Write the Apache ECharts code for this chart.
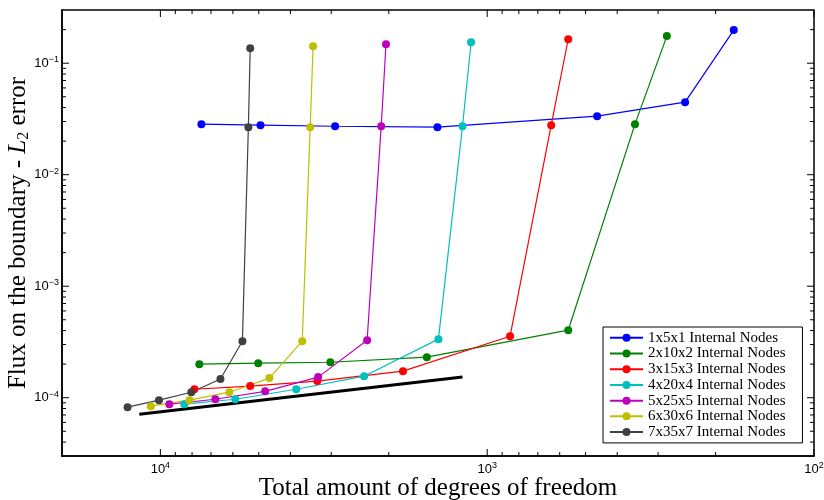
<!DOCTYPE html>
<html>
<head>
<meta charset="utf-8">
<script src="https://cdn.jsdelivr.net/npm/echarts@6/dist/echarts.min.js"></script>
<style>
  html, body { margin: 0; padding: 0; background: #fff; }
  #chart { width: 824px; height: 500px; }
</style>
</head>
<body>
<div id="chart"></div>
<script>
// Series labels and colours
const seriesNames = [
  '1x5x1 Internal Nodes', '2x10x2 Internal Nodes', '3x15x3 Internal Nodes',
  '4x20x4 Internal Nodes', '5x25x5 Internal Nodes', '6x30x6 Internal Nodes',
  '7x35x7 Internal Nodes'
];
const seriesColors = ['#0000ff', '#008000', '#ff0000', '#00bfbf', '#bf00bf', '#bfbf00', '#404040'];

// Degrees of freedom per configuration
const dof1 = [7490, 4940, 2920, 1420, 461, 248, 176];
const dof2 = [7600, 5020, 3020, 1530, 565, 353, 282];
const dof3 = [7870, 5310, 3310, 1810, 851, 637, 565];
const dof4 = [8450, 5900, 3840, 2380, 1410, 1190, 1120];
const dof5 = [9390, 6790, 4780, 3290, 2330, 2110, 2040];
const dof6 = [10700, 8150, 6150, 4640, 3680, 3480, 3410];
const dof7 = [12600, 10100, 8040, 6550, 5610, 5380, 5310];

// Boundary flux L2 error per configuration
const err1 = [0.0284, 0.0278, 0.0272, 0.0267, 0.0335, 0.0447, 0.198];
const err2 = [2.00e-4, 2.04e-4, 2.08e-4, 2.31e-4, 4.03e-4, 0.0284, 0.175];
const err3 = [1.19e-4, 1.27e-4, 1.41e-4, 1.73e-4, 3.56e-4, 0.0278, 0.164];
const err4 = [8.74e-5, 9.69e-5, 1.19e-4, 1.56e-4, 3.35e-4, 0.0272, 0.154];
const err5 = [8.74e-5, 9.69e-5, 1.14e-4, 1.53e-4, 3.28e-4, 0.0272, 0.148];
const err6 = [8.39e-5, 9.50e-5, 1.12e-4, 1.50e-4, 3.21e-4, 0.0267, 0.142];
const err7 = [8.22e-5, 9.50e-5, 1.12e-4, 1.47e-4, 3.21e-4, 0.0267, 0.136];

// Reference slope line
const refDof = [11600, 1190];
const refErr = [7.11e-5, 1.53e-4];

// Axis ranges and tick positions
const xRange = [100, 20000];
const yRange = [3e-5, 0.3];
const xMajorTicks = [100, 1000, 10000];
const yMajorTicks = [1e-4, 1e-3, 1e-2, 1e-1];
const minorMantissas = [2, 3, 4, 5, 6, 7, 8, 9];
const xDecades = [100, 1000, 10000];
const yDecades = [1e-5, 1e-4, 1e-3, 1e-2, 1e-1];

const dofs = [dof1, dof2, dof3, dof4, dof5, dof6, dof7];
const errs = [err1, err2, err3, err4, err5, err6, err7];

function minorTicks(decades, range) {
  const out = [];
  decades.forEach(d => minorMantissas.forEach(m => {
    const v = m * d;
    if (v > range[0] * 1.0001 && v < range[1] * 0.9999) out.push(v);
  }));
  return out;
}

const MAJOR_LEN = 7, MINOR_LEN = 4;
const xTickData = xMajorTicks.map(v => [v, 1e-3, MAJOR_LEN])
  .concat(minorTicks(xDecades, xRange).map(v => [v, 1e-3, MINOR_LEN]));
const yTickData = yMajorTicks.map(v => [1000, v, MAJOR_LEN])
  .concat(minorTicks(yDecades, yRange).map(v => [1000, v, MINOR_LEN]));

function isPow10(v) {
  const l = Math.log10(v);
  return Math.abs(l - Math.round(l)) < 1e-6;
}
function powerLabel(v) {
  if (!isPow10(v)) return '';
  const e = Math.round(Math.log10(v));
  return '{b|10}{e|' + (e < 0 ? '\u2212' + (-e) : e) + '}';
}
const tickRich = {
  b: { fontFamily: 'Liberation Sans', fontSize: 13, color: '#000', lineHeight: 16 },
  e: { fontFamily: 'Liberation Sans', fontSize: 9, color: '#000', lineHeight: 8, verticalAlign: 'top' }
};

function tickLine(x1, y1, x2, y2) {
  return { type: 'line', shape: { x1, y1, x2, y2 }, style: { stroke: '#000', lineWidth: 1 } };
}

const series = seriesNames.map((name, i) => ({
  name,
  type: 'line',
  data: dofs[i].map((x, j) => [x, errs[i][j]]),
  symbol: 'circle',
  symbolSize: 8,
  color: seriesColors[i],
  lineStyle: { width: 1.2, color: seriesColors[i] },
  itemStyle: { color: seriesColors[i] },
  emphasis: { disabled: true },
  silent: true
}));

series.push({
  name: 'reference',
  type: 'line',
  data: refDof.map((x, j) => [x, refErr[j]]),
  showSymbol: false,
  symbol: 'none',
  lineStyle: { width: 3, color: '#000' },
  emphasis: { disabled: true },
  silent: true
});

// Inward ticks on all four sides of the box
series.push({
  type: 'custom',
  silent: true,
  data: xTickData,
  renderItem(params, api) {
    const cs = params.coordSys;
    const px = api.coord([api.value(0), api.value(1)])[0];
    const len = api.value(2);
    const bottom = cs.y + cs.height, top = cs.y;
    return { type: 'group', children: [
      tickLine(px, bottom, px, bottom - len),
      tickLine(px, top, px, top + len)
    ] };
  },
  z: 5
});
series.push({
  type: 'custom',
  silent: true,
  data: yTickData,
  renderItem(params, api) {
    const cs = params.coordSys;
    const py = api.coord([api.value(0), api.value(1)])[1];
    const len = api.value(2);
    const left = cs.x, right = cs.x + cs.width;
    return { type: 'group', children: [
      tickLine(left, py, left + len, py),
      tickLine(right, py, right - len, py)
    ] };
  },
  z: 5
});

const chart = echarts.init(document.getElementById('chart'), null, { renderer: 'canvas' });
chart.setOption({
  animation: false,
  backgroundColor: '#fff',
  grid: {
    left: 62, right: 10, top: 10, bottom: 44,
    outerBoundsMode: 'none',
    show: true, borderColor: '#000', borderWidth: 1.5, backgroundColor: 'transparent'
  },
  legend: {
    orient: 'vertical',
    left: 603, top: 327,
    data: seriesNames,
    backgroundColor: '#fff',
    borderColor: '#000', borderWidth: 1, borderRadius: 0,
    padding: [3, 17, 3, 6],
    itemGap: 0, itemWidth: 33, itemHeight: 10,
    selectedMode: false,
    textStyle: { fontFamily: 'Liberation Serif', fontSize: 15, color: '#000', lineHeight: 15.7 }
  },
  xAxis: {
    type: 'log', logBase: 10,
    min: xRange[0], max: xRange[1], inverse: true,
    axisLine: { show: true, onZero: false, lineStyle: { color: '#000', width: 1.5 } },
    axisTick: { show: false },
    splitLine: { show: false },
    axisLabel: { formatter: powerLabel, margin: 5, rich: tickRich, hideOverlap: false },
    name: 'Total amount of degrees of freedom',
    nameLocation: 'middle', nameGap: 20, nameMoveOverlap: false,
    nameTextStyle: { fontFamily: 'Liberation Serif', fontSize: 25, color: '#000', lineHeight: 25 }
  },
  yAxis: {
    type: 'log', logBase: 10,
    min: yRange[0], max: yRange[1],
    axisLine: { show: true, onZero: false, lineStyle: { color: '#000', width: 1.5 } },
    axisTick: { show: false },
    splitLine: { show: false },
    axisLabel: { formatter: powerLabel, margin: 3, rich: tickRich, hideOverlap: false },
    name: '{n|Flux on the boundary - }{i|L}{s|2}{n| error}',
    nameLocation: 'middle', nameGap: 30, nameRotate: 90, nameMoveOverlap: false,
    nameTextStyle: {
      rich: {
        n: { fontFamily: 'Liberation Serif', fontSize: 25, color: '#000', lineHeight: 28 },
        i: { fontFamily: 'Liberation Serif', fontSize: 25, fontStyle: 'italic', color: '#000', lineHeight: 28 },
        s: { fontFamily: 'Liberation Serif', fontSize: 16, color: '#000', lineHeight: 16, verticalAlign: 'bottom' }
      }
    }
  },
  series
});
</script>
</body>
</html>
